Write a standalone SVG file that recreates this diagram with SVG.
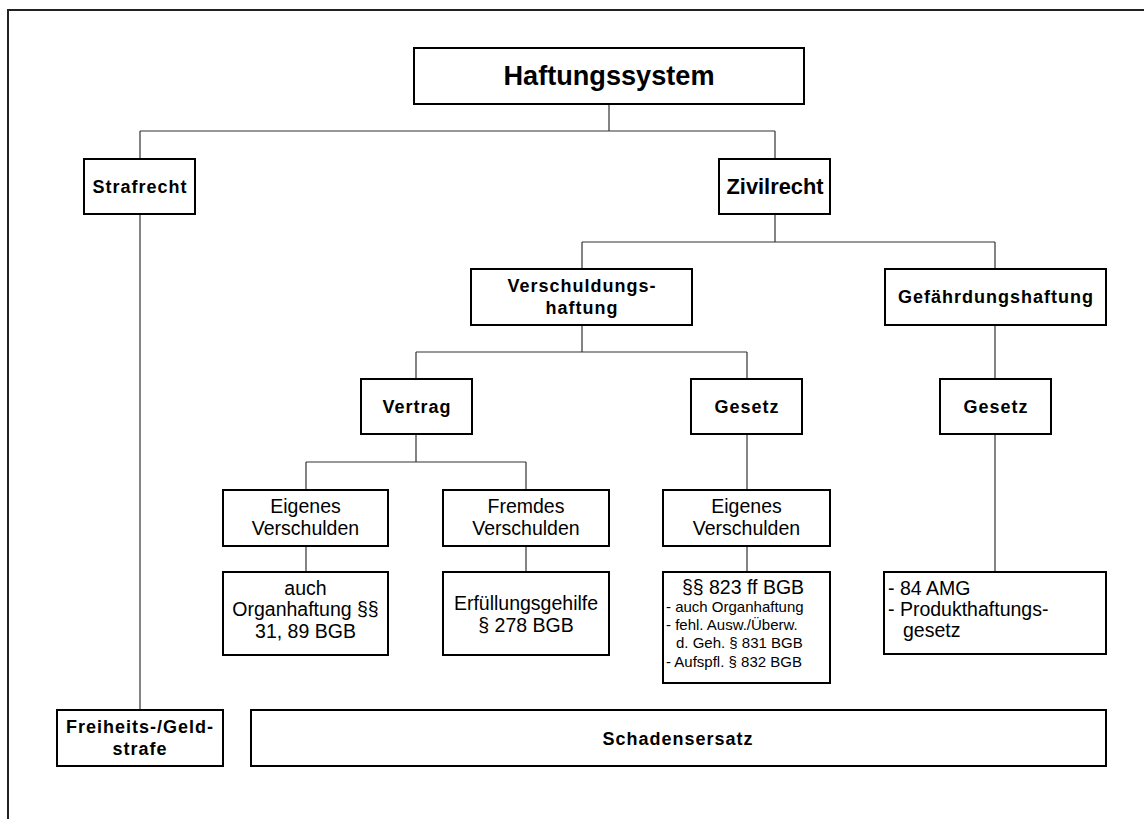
<svg xmlns="http://www.w3.org/2000/svg" width="1144" height="819" viewBox="0 0 1144 819">
<style>
.box{fill:#fff;stroke:#000;stroke-width:2}
.b{font-family:"Liberation Sans",Arial,sans-serif;font-weight:bold;font-size:18px;letter-spacing:1px;fill:#000;text-anchor:middle}
.r{font-family:"Liberation Sans",Arial,sans-serif;font-size:19.5px;fill:#000;text-anchor:middle}
.rl{font-family:"Liberation Sans",Arial,sans-serif;font-size:19.5px;fill:#000}
.s{font-family:"Liberation Sans",Arial,sans-serif;font-size:15px;fill:#000}
.con{fill:none;stroke:#333;stroke-width:1.2}
</style>
<rect width="1144" height="819" fill="#fff"/>
<path d="M8,819 V10 H1144" fill="none" stroke="#222" stroke-width="2"/>
<g id="connectors" class="con">
<path d="M609,104 V131 M140,131 H775 M140,131 V159 M775,131 V159"/>
<path d="M140,214 V710"/>
<path d="M775,214 V242 M582,242 H995 M582,242 V269 M995,242 V269"/>
<path d="M582,325 V352 M416,352 H747 M416,352 V379 M747,352 V379"/>
<path d="M995,325 V379 M995,434 V572"/>
<path d="M416,434 V462 M306,462 H526 M306,462 V490 M526,462 V490"/>
<path d="M747,434 V490"/>
<path d="M306,546 V572 M526,546 V572 M747,546 V572"/>
</g>
<g id="haftungssystem"><rect class="box" x="414" y="48" width="390" height="56"/><text x="609" y="85" font-family="Liberation Sans, Arial, sans-serif" font-weight="bold" font-size="28" text-anchor="middle" textLength="211" lengthAdjust="spacingAndGlyphs">Haftungssystem</text></g>
<g id="strafrecht"><rect class="box" x="84" y="159" width="111" height="55"/><text class="b" x="140" y="193">Strafrecht</text></g>
<g id="zivilrecht"><rect class="box" x="719" y="159" width="111" height="55"/><text x="775" y="194" font-family="Liberation Sans, Arial, sans-serif" font-weight="bold" font-size="22" text-anchor="middle" textLength="97" lengthAdjust="spacingAndGlyphs">Zivilrecht</text></g>
<g id="verschuldungshaftung"><rect class="box" x="471" y="269" width="221" height="56"/><text class="b" x="582" y="292">Verschuldungs-</text><text class="b" x="582" y="314">haftung</text></g>
<g id="gefaehrdungshaftung"><rect class="box" x="885" y="269" width="221" height="56"/><text class="b" x="996" y="303">Gefährdungshaftung</text></g>
<g id="vertrag"><rect class="box" x="361" y="379" width="111" height="55"/><text class="b" x="417" y="413">Vertrag</text></g>
<g id="gesetz1"><rect class="box" x="691" y="379" width="111" height="55"/><text class="b" x="747" y="413">Gesetz</text></g>
<g id="gesetz2"><rect class="box" x="940" y="379" width="111" height="55"/><text class="b" x="996" y="413">Gesetz</text></g>
<g id="eigenes1"><rect class="box" x="223" y="490" width="165" height="56"/><text class="r" x="305.5" y="513">Eigenes</text><text class="r" x="305.5" y="535">Verschulden</text></g>
<g id="fremdes"><rect class="box" x="443" y="490" width="166" height="56"/><text class="r" x="526" y="513">Fremdes</text><text class="r" x="526" y="535">Verschulden</text></g>
<g id="eigenes2"><rect class="box" x="663" y="490" width="167" height="56"/><text class="r" x="746.5" y="513">Eigenes</text><text class="r" x="746.5" y="535">Verschulden</text></g>
<g id="organhaftung"><rect class="box" x="223" y="572" width="165" height="83"/><text class="r" x="305.5" y="595">auch</text><text class="r" x="305.5" y="616">Organhaftung §§</text><text class="r" x="305.5" y="638">31, 89 BGB</text></g>
<g id="erfuellungsgehilfe"><rect class="box" x="443" y="572" width="166" height="83"/><text class="r" x="526" y="610">Erfüllungsgehilfe</text><text class="r" x="526" y="632">§ 278 BGB</text></g>
<g id="paragraph823"><rect class="box" x="663" y="572" width="167" height="111"/><text class="r" x="743" y="594">§§ 823 ff BGB</text><text class="s" x="666" y="612">- auch Organhaftung</text><text class="s" x="666" y="630">- fehl. Ausw./Überw.</text><text class="s" x="676" y="648">d. Geh. § 831 BGB</text><text class="s" x="666" y="667">- Aufspfl. § 832 BGB</text></g>
<g id="amg"><rect class="box" x="884" y="572" width="222" height="82"/><text class="rl" x="888" y="595">- 84 AMG</text><text class="rl" x="888" y="616">- Produkthaftungs-</text><text class="rl" x="903" y="637">gesetz</text></g>
<g id="freiheitsstrafe"><rect class="box" x="57" y="710" width="166" height="56"/><text class="b" x="140" y="733">Freiheits-/Geld-</text><text class="b" x="140" y="755">strafe</text></g>
<g id="schadensersatz"><rect class="box" x="251" y="710" width="855" height="56"/><text class="b" x="678" y="745">Schadensersatz</text></g>
</svg>
